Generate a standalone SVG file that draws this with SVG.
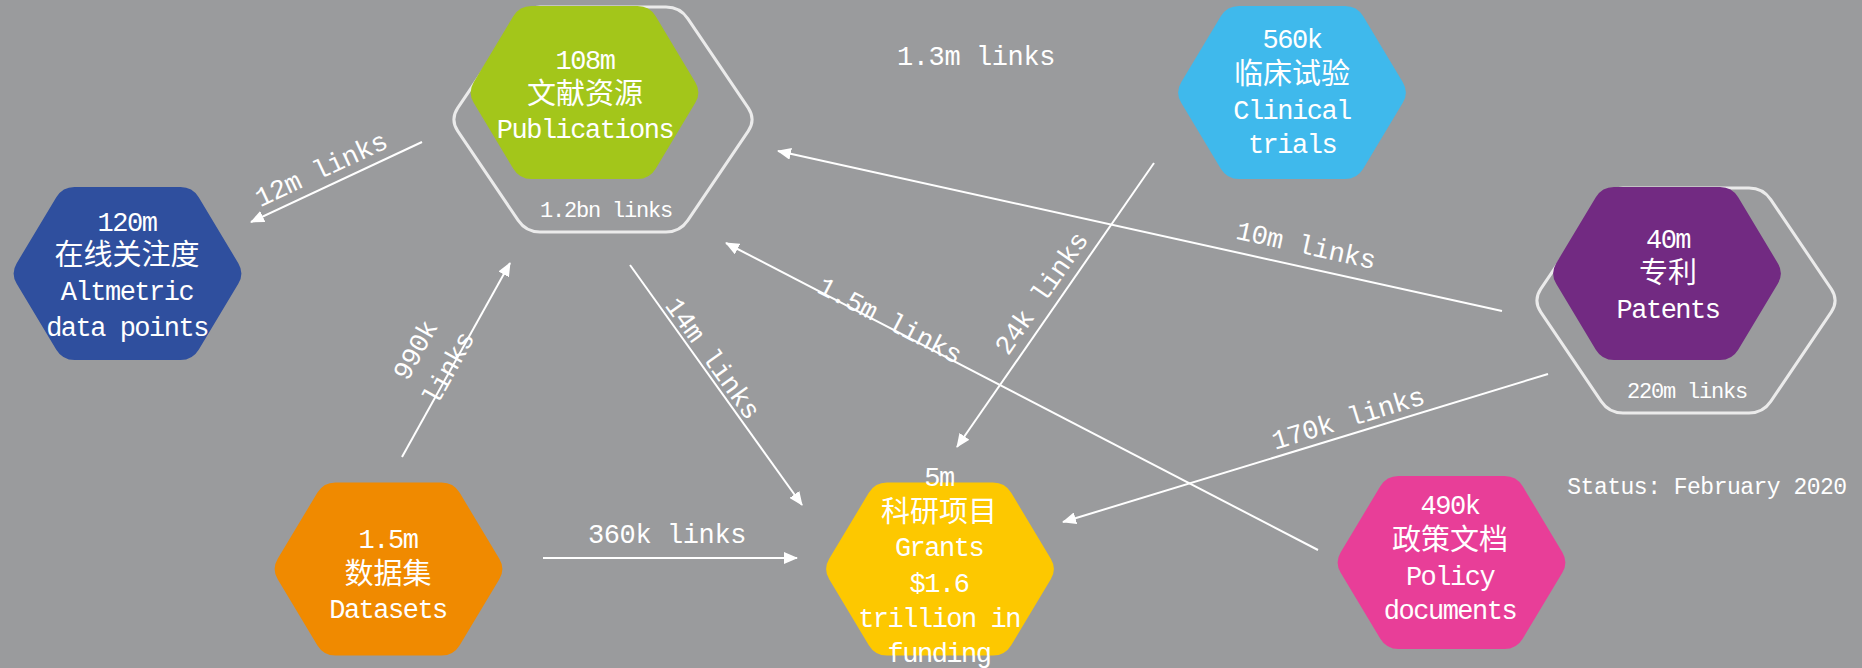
<svg xmlns="http://www.w3.org/2000/svg" width="1862" height="668" viewBox="0 0 1862 668">
<style>
.lat{font-family:"Liberation Mono","Noto Sans CJK SC",monospace;font-size:27px;letter-spacing:-1.5px;fill:#fff;text-anchor:middle}
.cjk{font-family:"Noto Sans CJK SC","Liberation Mono",sans-serif;font-size:29px;fill:#fff;text-anchor:middle}
.ring{fill:none;stroke:#ebebeb;stroke-width:3}
.rl{font-family:"Liberation Mono",monospace;font-size:22px;letter-spacing:-1.2px;fill:#fff;text-anchor:middle}
.cl{font-family:"Liberation Mono",monospace;font-size:27px;letter-spacing:-0.4px;fill:#fff;text-anchor:middle}
.st{font-family:"Liberation Mono",monospace;font-size:23px;letter-spacing:-0.5px;fill:#fff;text-anchor:middle}
.con line{stroke:#fff;stroke-width:2;marker-end:url(#ah)}
</style>
<defs>
<path id="hx" d="M -110.8,10.3 Q -117,0 -110.8,-10.3 L -71.2,-76.2 Q -65,-86.5 -53,-86.5 L 53,-86.5 Q 65,-86.5 71.2,-76.2 L 110.8,-10.3 Q 117,0 110.8,10.3 L 71.2,76.2 Q 65,86.5 53,86.5 L -53,86.5 Q -65,86.5 -71.2,76.2 Z"/>
<path id="rg" d="M -145.2,11.6 Q -153,0 -145.2,-11.6 L -84.8,-100.9 Q -77,-112.5 -63,-112.5 L 63,-112.5 Q 77,-112.5 84.8,-100.9 L 145.2,-11.6 Q 153,0 145.2,11.6 L 84.8,100.9 Q 77,112.5 63,112.5 L -63,112.5 Q -77,112.5 -84.8,100.9 Z"/>
<marker id="ah" viewBox="0 0 14 12" refX="13" refY="6" markerWidth="14" markerHeight="12" markerUnits="userSpaceOnUse" orient="auto">
<path d="M0,0 L14,6 L0,12 z" fill="#fff"/>
</marker>
</defs>
<rect width="1862" height="668" fill="#9a9b9d"/>

<g id="publications">
<use href="#rg" x="603" y="119.5" class="ring"/>
<use href="#hx" x="584.5" y="92.5" fill="#a3c61a"/>
<text class="lat" x="585" y="69">108m</text>
<text class="cjk" x="585" y="104">文献资源</text>
<text class="lat" x="585" y="138">Publications</text>
<text class="rl" x="606" y="217">1.2bn links</text>
</g>

<g id="altmetric">
<use href="#hx" x="127.5" y="273.5" fill="#2f4f9e"/>
<text class="lat" x="127" y="231">120m</text>
<text class="cjk" x="127" y="265">在线关注度</text>
<text class="lat" x="127" y="300">Altmetric</text>
<text class="lat" x="127" y="336">data points</text>
</g>

<g id="clinical">
<use href="#hx" x="1292" y="92.5" fill="#3fb9ec"/>
<text class="lat" x="1292" y="48">560k</text>
<text class="cjk" x="1292" y="84">临床试验</text>
<text class="lat" x="1292" y="119">Clinical</text>
<text class="lat" x="1292" y="153">trials</text>
</g>

<g id="patents">
<use href="#rg" x="1686" y="300.5" class="ring"/>
<use href="#hx" x="1667" y="273.5" fill="#722a82"/>
<text class="lat" x="1668" y="248">40m</text>
<text class="cjk" x="1668" y="283">专利</text>
<text class="lat" x="1668" y="318">Patents</text>
<text class="rl" x="1687" y="398">220m links</text>
</g>

<g id="datasets">
<use href="#hx" x="388.5" y="569" fill="#f08a00"/>
<text class="lat" x="388" y="548">1.5m</text>
<text class="cjk" x="388" y="584">数据集</text>
<text class="lat" x="388" y="618">Datasets</text>
</g>

<g id="grants">
<use href="#hx" x="940" y="569" fill="#fdc800"/>
<text class="lat" x="939" y="486">5m</text>
<text class="cjk" x="939" y="522">科研项目</text>
<text class="lat" x="939" y="556">Grants</text>
<text class="lat" x="939" y="592">$1.6</text>
<text class="lat" x="939" y="627">trillion in</text>
<text class="lat" x="939" y="662">funding</text>
</g>

<g id="policy">
<use href="#hx" x="1451.5" y="562.5" fill="#e83e98"/>
<text class="lat" x="1450" y="514">490k</text>
<text class="cjk" x="1450" y="550">政策文档</text>
<text class="lat" x="1450" y="585">Policy</text>
<text class="lat" x="1450" y="619">documents</text>
</g>

<g id="connectors" class="con">
<line x1="422" y1="142" x2="251" y2="222"/>
<line x1="402" y1="457" x2="510" y2="263"/>
<line x1="543" y1="558" x2="797" y2="558"/>
<line x1="630" y1="265" x2="802" y2="505"/>
<line x1="1318" y1="550" x2="726" y2="243"/>
<line x1="1154" y1="163" x2="957" y2="447"/>
<line x1="1502" y1="311" x2="778" y2="151"/>
<line x1="1548" y1="374" x2="1063" y2="522"/>
</g>

<g id="labels">
<text class="cl" transform="translate(321,169) rotate(-25)" y="9">12m links</text>
<text class="cl" transform="translate(415,350) rotate(-61)" y="9">990k</text>
<text class="cl" transform="translate(448,368) rotate(-61)" y="9">links</text>
<text class="cl" x="667" y="543">360k links</text>
<text class="cl" transform="translate(713,358) rotate(54.4)" y="9">14m links</text>
<text class="cl" transform="translate(890,320) rotate(27.3)" y="9">1.5m links</text>
<text class="cl" transform="translate(1041,293) rotate(-55.3)" y="9">24k links</text>
<text class="cl" transform="translate(1306,245) rotate(12.5)" y="9">10m links</text>
<text class="cl" transform="translate(1348,418) rotate(-17)" y="9">170k links</text>
<text class="cl" x="976" y="65">1.3m links</text>
<text class="st" x="1707" y="494">Status: February 2020</text>
</g>
</svg>
